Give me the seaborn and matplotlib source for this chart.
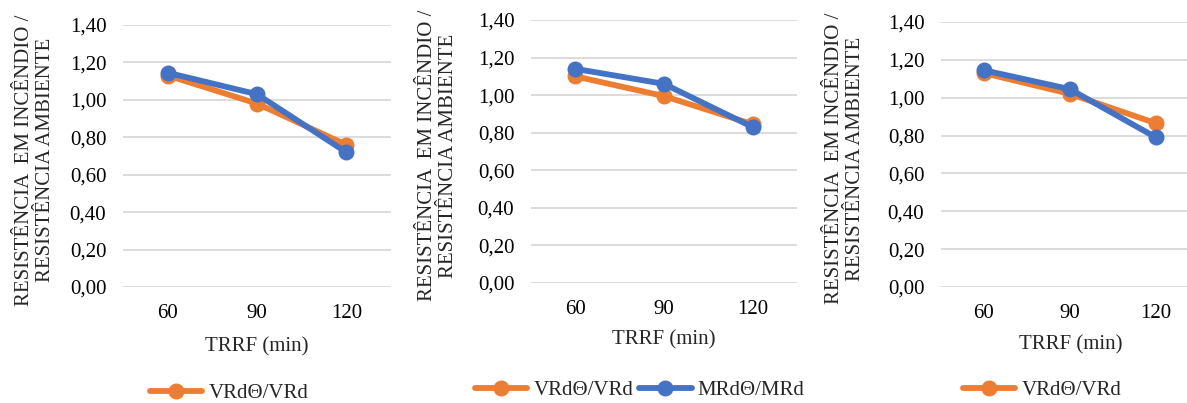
import matplotlib
matplotlib.use("Agg")
import matplotlib.pyplot as plt
import seaborn as sns
import pandas as pd
from matplotlib.ticker import FuncFormatter

sns.set_theme(style="white")
plt.rcParams['font.family'] = ['Liberation Serif', 'DejaVu Serif']

trrf = ["60", "90", "120"]
series_names = ["VRdΘ/VRd", "MRdΘ/MRd"]
# panel values
p1_vrd = [1.13, 0.98, 0.76]
p1_mrd = [1.145, 1.03, 0.72]
p2_vrd = [1.10, 0.995, 0.845]
p2_mrd = [1.14, 1.06, 0.83]
p3_vrd = [1.13, 1.02, 0.865]
p3_mrd = [1.145, 1.045, 0.79]
yticks = [0.0, 0.2, 0.4, 0.6, 0.8, 1.0, 1.2, 1.4]
ylabel = "RESISTÊNCIA  EM INCÊNDIO /\nRESISTÊNCIA AMBIENTE"
xlabel = "TRRF (min)"

colors = {"VRdΘ/VRd": "#ED7D31", "MRdΘ/MRd": "#4472C4"}

W, H = 1187, 403
fig = plt.figure(figsize=(W / 100, H / 100), dpi=100)
FS = 15

def fx(px):
    return px / W

def fy(py):
    return 1 - py / H

panels = [
    (p1_vrd, p1_mrd, (123, 25, 391, 287), 35, 347, 393, 150, 1),
    (p2_vrd, p2_mrd, (531, 20, 797, 283), 438, 340, 390, 475, 2),
    (p3_vrd, p3_mrd, (941, 22, 1199, 287), 845, 345, 390, 963, 1),
]

for vrd, mrd, box, ylx, xly, legy, legx, nleg in panels:
    x0, y0, x1, y1 = box
    ax = fig.add_axes([fx(x0), fy(y1), fx(x1 - x0), (y1 - y0) / H])
    df = pd.DataFrame({
        "TRRF": trrf * 2,
        "valor": vrd + mrd,
        "serie": [series_names[0]] * 3 + [series_names[1]] * 3,
    })
    sns.lineplot(data=df, x="TRRF", y="valor", hue="serie", hue_order=series_names,
                 palette=colors, marker="o", markersize=11.5, markeredgewidth=0,
                 linewidth=4.2, legend=False, ax=ax, sort=False)
    for ln in ax.get_lines():
        ln.set_clip_on(False)
        ln.set_solid_capstyle("round")
    ax.set_xlim(-0.5, 2.5)
    ax.set_ylim(0, 1.4)
    ax.set_yticks(yticks)
    ax.yaxis.set_major_formatter(FuncFormatter(lambda v, p: f"{v:.2f}".replace(".", ",")))
    ax.grid(axis="y", color="#D9D9D9", linewidth=1.3)
    ax.grid(axis="x", visible=False)
    for s in ax.spines.values():
        s.set_visible(False)
    ax.tick_params(axis="both", length=0, labelsize=FS, colors="#000000")
    ax.tick_params(axis="y", pad=12)
    ax.tick_params(axis="x", pad=12)
    ax.set_xlabel("")
    ax.set_ylabel("")
    fig.text(fx(ylx), fy((y0 + y1) / 2 + 4), ylabel, rotation=90, ha="center", va="center",
             multialignment="center", fontsize=FS, linespacing=1.15)
    fig.text(fx((x0 + x1) / 2 if x1 < 1190 else 1071), fy(xly), xlabel,
             ha="center", va="center", fontsize=FS)
    handles = ax.get_lines()[:nleg]
    fig.legend(handles, series_names[:nleg], loc="center left",
               bbox_to_anchor=(fx(legx), fy(legy)), frameon=False, fontsize=FS,
               ncol=nleg, borderpad=0, borderaxespad=0, handlelength=2.5,
               handletextpad=0.3, columnspacing=0.3)

fig.savefig("out.png", dpi=100)
